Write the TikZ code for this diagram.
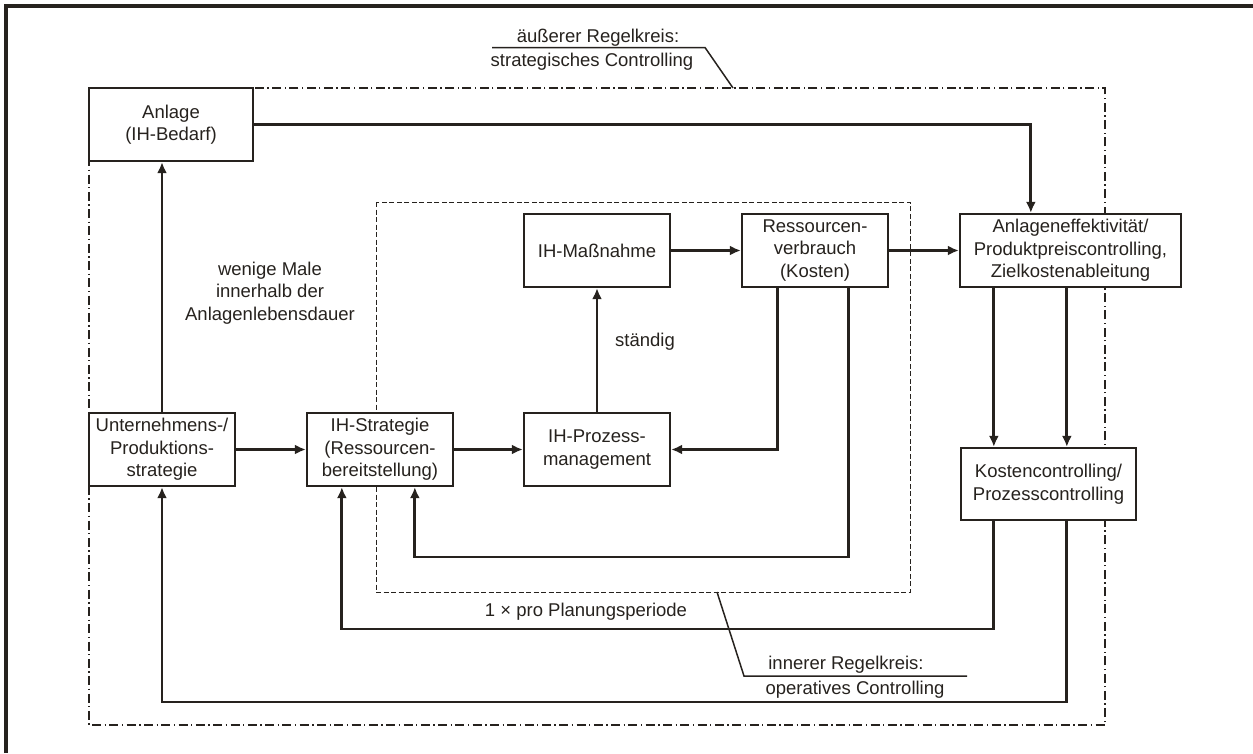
\documentclass[tikz,border=0pt]{standalone}
\usepackage{fontspec}
\setmainfont{Liberation Sans}
\usetikzlibrary{arrows.meta,calc}
\definecolor{ink}{RGB}{38,34,30}
\begin{document}
\begin{tikzpicture}[x=1pt,y=-1pt,
  every node/.style={font=\fontsize{18.5pt}{22.5pt}\selectfont, text=ink},
  box/.style={draw=ink, line width=2.3pt, fill=white, align=center,
              inner sep=0pt, minimum height=73pt},
  conn/.style={draw=ink, line width=2.8pt},
  arr/.style={conn, -{Latex[length=11pt,width=10pt]}},
  outerloop/.style={draw=ink, line width=1.1pt,
                    dash pattern=on 9pt off 3.5pt on 1.3pt off 3.5pt},
  innerloop/.style={draw=ink, line width=0.9pt, dash pattern=on 5pt off 2.5pt},
  callout/.style={draw=ink, line width=1.5pt},
  note/.style={align=center, inner sep=0pt}
]
\useasboundingbox (0,0) rectangle (1253,753);

% frame edges
\draw[ink, line width=3.2pt] (6,753) -- (6,6) -- (1253,6);

% strategic loop (dash-dot) and operative loop (dashed)
\draw[outerloop] (89,88) rectangle (1105,725);
\draw[innerloop] (376,202) rectangle (910,592);

% blocks
\node[box, minimum width=164pt] (anl) at (171,124.5) {Anlage\\(IH-Bedarf)};
\node[box, minimum width=146pt] (unt) at (162,449.5) {Unternehmens-/\\Produktions-\\strategie};
\node[box, minimum width=146pt] (str) at (380,449.5) {IH-Strategie\\(Ressourcen-\\bereitstellung)};
\node[box, minimum width=146pt] (proz) at (597,449.5) {IH-Prozess-\\management};
\node[box, minimum width=146pt] (mass) at (597,250.5) {IH-Maßnahme};
\node[box, minimum width=146pt] (res) at (815,250.5) {Ressourcen-\\verbrauch\\(Kosten)};
\node[box, minimum width=221pt] (eff) at (1070.5,250.5) {Anlageneffektivität/\\Produktpreiscontrolling,\\Zielkostenableitung};
\node[box, minimum width=175pt, minimum height=72pt] (kost) at (1048.5,484) {Kostencontrolling/\\Prozesscontrolling};

% attachment points on block edges
\coordinate (anlIn) at ([xshift=72pt]eff.north west);
\coordinate (rA) at ([xshift=37pt]res.south west);
\coordinate (rB) at ([xshift=108pt]res.south west);
\coordinate (eA) at ([xshift=35pt]eff.south west);
\coordinate (eB) at ([xshift=108pt]eff.south west);
\coordinate (kA) at ([xshift=34pt]kost.south west);
\coordinate (kB) at ([xshift=107pt]kost.south west);
\coordinate (sA) at ([xshift=36pt]str.south west);
\coordinate (sB) at ([xshift=109pt]str.south west);

% forward flow
\draw[arr] (unt.east) -- (str.west);
\draw[arr] (str.east) -- (proz.west);
\draw[arr] (proz.north) -- (mass.south);
\draw[arr] (mass.east) -- (res.west);
\draw[arr] (res.east) -- (eff.west);
\draw[arr] (unt.north) -- (unt.north |- anl.south);
\draw[arr] (anl.east) -| (anlIn);
\draw[arr] (eA) -- (eA |- kost.north);
\draw[arr] (eB) -- (eB |- kost.north);

% feedback paths
\draw[arr] (rA) |- (proz.east);
\draw[arr] (rB) -- (rB |- 0,557) -| (sB);
\draw[arr] (kA) -- (kA |- 0,629) -| (sA);
\draw[arr] (kB) -- (kB |- 0,702) -| (unt.south);

% path labels
\node[note] (lblW) at (270,293) {wenige Male\\innerhalb der\\Anlagenlebensdauer};
\node[note, anchor=west] (lblS) at (615,342) {ständig};
\node[note] (lblP) at (586,612) {1 × pro Planungsperiode};

% callout: strategic loop
\node[note, anchor=base] (outA) at (598,42) {äußerer Regelkreis:};
\node[note, anchor=base] (outB) at (592,66) {strategisches Controlling};
\draw[callout] (492,47.5) -- (705,47.5) -- (733,88);

% callout: operative loop
\node[note, anchor=base] (inA) at (846,669) {innerer Regelkreis:};
\node[note, anchor=base] (inB) at (855,694) {operatives Controlling};
\draw[callout] (717,592) -- (744,676) -- (967,676);
\end{tikzpicture}
\end{document}
